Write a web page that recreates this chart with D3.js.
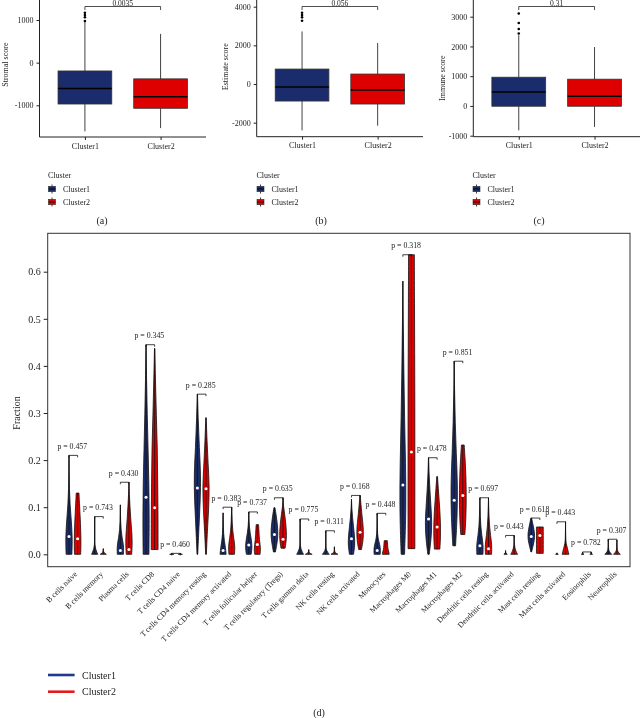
<!DOCTYPE html>
<html><head><meta charset="utf-8">
<script src="https://cdn.jsdelivr.net/npm/d3@7"></script>
<style>
body{margin:0;background:#fff}
svg{will-change:transform;transform:translateZ(0)}
text{font-family:"Liberation Serif","Times New Roman",serif;fill:#222;-webkit-font-smoothing:antialiased}
</style>
</head><body>
<svg id="chart" width="640" height="718"></svg>
<script>
// ---------- Data: panels (a)-(c) ----------
const clusters = ["Cluster1", "Cluster2"];
// [lower whisker, Q1, median, Q3, upper whisker]
const stromalBox = [[-1610, -970, -605, -195, 960], [-1535, -1070, -800, -380, 675]];
const stromalOutliers = [[976, 1063, 1117, 1171], []];
const estimateBox = [[-2400, -880, -155, 775, 2720], [-2155, -1034, -310, 517, 2120]];
const estimateOutliers = [[3275, 3450, 3570, 3688], []];
const immuneBox = [[-820, -10, 470, 966, 2380], [-706, -10, 327, 900, 1980]];
const immuneOutliers = [[2434, 2588, 2790, 3106], []];
const boxPValues = ["0.0035", "0.056", "0.31"];
const stromalTicks = [-1000, 0, 1000];
const estimateTicks = [-2000, 0, 2000, 4000];
const immuneTicks = [-1000, 0, 1000, 2000, 3000];
const boxYLabels = ["Stromal score", "Estimate score", "Immune score"];
const panelTags = ["(a)", "(b)", "(c)"];

// ---------- Data: panel (d) ----------
const cellTypes = ["B cells naive","B cells memory","Plasma cells","T cells CD8","T cells CD4 naive",
  "T cells CD4 memory resting","T cells CD4 memory activated","T cells follicular helper",
  "T cells regulatory (Tregs)","T cells gamma delta","NK cells resting","NK cells activated",
  "Monocytes","Macrophages M0","Macrophages M1","Macrophages M2","Dendritic cells resting",
  "Dendritic cells activated","Mast cells resting","Mast cells activated","Eosinophils","Neutrophils"];
const violinPValues = ["0.457","0.743","0.430","0.345","0.460","0.285","0.383","0.737","0.635","0.775",
  "0.311","0.168","0.448","0.318","0.478","0.851","0.697","0.443","0.618","0.443","0.782","0.307"];
const fractionTicks = [0, 0.1, 0.2, 0.3, 0.4, 0.5, 0.6];

const c1Min = [0,0,0,0,0,0,0,0,0.005,0,0,0,0,0,0,0.018,0,0,0.005,0,0,0];
const c1Max = [0.21,0.08,0.105,0.445,0.002,0.34,0.088,0.09,0.099,0.075,0.05,0.117,0.087,0.58,0.205,0.41,0.12,0.008,0.077,0.003,0.004,0.032];
const c1Median = [0.038,null,0.008,0.121,null,0.141,0.008,0.02,0.042,null,null,0.033,0.008,0.147,0.075,0.115,0.018,null,0.038,null,null,null];
// relative half-widths, sampled evenly from min (first) to max (last)
const c1Shape = [
  [0.85,1,0.7,0.3,0.1,0.04,0],
  [0.9,0.12,0.03,0.02,0.01,0.01,0],
  [0.9,1,0.5,0.2,0.08,0.03,0],
  [0.85,0.95,0.85,0.6,0.35,0.15,0],
  [0.6,0.3,0.1,0.05,0.02,0.01,0],
  [0.1,0.45,0.85,1,0.55,0.25,0.03],
  [0.9,0.7,0.35,0.15,0.08,0.04,0],
  [0.7,1,0.8,0.4,0.15,0.05,0],
  [0.3,0.7,1,1,0.8,0.5,0.15],
  [1,0.1,0.03,0.02,0.01,0.01,0],
  [1,0.15,0.03,0.02,0.01,0.01,0],
  [0.6,1,0.9,0.6,0.3,0.1,0],
  [0.9,1,0.4,0.1,0.05,0.02,0],
  [0.5,0.95,0.8,0.5,0.3,0.12,0],
  [0.2,0.8,1,0.7,0.4,0.15,0.02],
  [0.4,0.9,1,0.6,0.3,0.1,0],
  [0.9,1,0.55,0.25,0.12,0.05,0],
  [0.5,0.3,0.1,0.05,0.02,0.01,0],
  [0.1,0.5,0.9,1,0.8,0.45,0.1],
  [0.4,0.2,0.1,0.05,0.02,0.01,0],
  [0.4,0.2,0.1,0.05,0.02,0.01,0],
  [1,0.3,0.1,0.05,0.02,0.01,0]
];
const c2Min = [0,0,0,0.01,0,0,0,0,0.013,0,0,0.01,0,0.012,0.011,0.042,0,0,0.002,0,0,0];
const c2Max = [0.13,0.012,0.153,0.437,0.002,0.29,0.10,0.063,0.12,0.01,0.016,0.125,0.029,0.636,0.165,0.232,0.12,0.04,0.058,0.069,0.005,0.03];
const c2Median = [0.033,null,0.01,0.099,null,0.139,null,0.021,0.032,null,null,0.047,null,0.217,0.058,0.125,0.012,null,0.04,null,null,null];
const c2Shape = [
  [0.9,1,0.95,0.85,0.7,0.55,0.4],
  [0.9,0.5,0.2,0.1,0.05,0.02,0],
  [0.8,1,0.8,0.5,0.3,0.1,0],
  [1,1,0.9,0.8,0.5,0.25,0.05],
  [0.6,0.3,0.1,0.05,0.02,0.01,0],
  [0.1,0.4,0.8,1,0.6,0.3,0.05],
  [0.8,1,0.6,0.3,0.15,0.08,0],
  [0.8,0.95,0.8,0.6,0.5,0.45,0.35],
  [0.6,1,1,0.8,0.5,0.1,0.02],
  [1,0.5,0.2,0.1,0.05,0.02,0],
  [1,0.4,0.1,0.05,0.03,0.02,0],
  [0.4,0.9,1,0.8,0.5,0.25,0.05],
  [1,0.9,0.7,0.6,0.55,0.5,0.45],
  [1,1,1,1,0.95,0.9,0.85],
  [0.8,1,1,0.85,0.6,0.35,0.1],
  [0.6,0.9,1,1,0.9,0.7,0.4],
  [0.9,1,0.6,0.3,0.15,0.06,0],
  [1,0.5,0.2,0.08,0.03,0.01,0],
  [1,1,1,1,1,1,1],
  [1,0.6,0.15,0.05,0.03,0.01,0],
  [0.4,0.2,0.1,0.05,0.02,0.01,0],
  [1,0.3,0.1,0.05,0.02,0.01,0]
];

// ---------- Styles ----------
const boxFill = ["#1a2c6b", "#de0000"];
const lineCol = ["#1f3a8a", "#e41a1c"];
const ink = "#222";

const svg = d3.select("#chart");
svg.append("rect").attr("width", 640).attr("height", 718).attr("fill", "#fff");

// ---------- Panels (a)-(c) ----------
const layouts = [
  {ax: 39.5, right: 206, d: [-1000, 1000], r: [105.3, 20], base: 137, labX: 5, legX: 48, tagX: 102},
  {ax: 256.7, right: 423, d: [-2000, 4000], r: [122.7, 6.7], base: 136.7, labX: 225, legX: 256.5, tagX: 321},
  {ax: 473.3, right: 640, d: [-1000, 3000], r: [135.7, 16.7], base: 136.7, labX: 441.7, legX: 472.5, tagX: 539}
];
const boxes = [stromalBox, estimateBox, immuneBox];
const outliers = [stromalOutliers, estimateOutliers, immuneOutliers];
const ticks = [stromalTicks, estimateTicks, immuneTicks];

layouts.forEach((L, p) => {
  const g = svg.append("g");
  const y = d3.scaleLinear().domain(L.d).range(L.r);
  const x = d3.scalePoint().domain(clusters).range([L.ax, L.right]).padding(0.6);
  const bw = x.step() * 0.71;

  // y axis
  const ya = g.append("g").attr("transform", `translate(${L.ax},0)`)
    .call(d3.axisLeft(y).tickValues(ticks[p]).tickSize(3).tickPadding(3));
  ya.select(".domain").remove();
  ya.selectAll("line").attr("stroke", ink);
  ya.selectAll("text").style("font-size", "8px").attr("fill", ink).text(d => d < 0 ? "-" + Math.abs(d) : d);
  g.append("line").attr("x1", L.ax).attr("x2", L.ax).attr("y1", 0).attr("y2", L.base).attr("stroke", ink).attr("stroke-width", 1);
  // x axis
  const xa = g.append("g").attr("transform", `translate(0,${L.base})`)
    .call(d3.axisBottom(x).tickSize(3).tickPadding(3));
  xa.select(".domain").remove();
  xa.selectAll("line").attr("stroke", ink);
  xa.selectAll("text").style("font-size", "8px").attr("fill", ink);
  g.append("line").attr("x1", L.ax).attr("x2", L.right).attr("y1", L.base).attr("y2", L.base).attr("stroke", ink);

  // y label
  g.append("text").attr("transform", `translate(${L.labX},${(L.r[0] + L.r[1]) / 2 + 2}) rotate(-90)`)
    .attr("text-anchor", "middle").attr("dy", "0.35em").style("font-size", "8px").text(boxYLabels[p]);

  // boxes
  boxes[p].forEach((b, i) => {
    const cx = x(clusters[i]);
    g.append("line").attr("x1", cx).attr("x2", cx).attr("y1", y(b[0])).attr("y2", y(b[1])).attr("stroke", "#111").attr("stroke-width", 0.8);
    g.append("line").attr("x1", cx).attr("x2", cx).attr("y1", y(b[3])).attr("y2", y(b[4])).attr("stroke", "#111").attr("stroke-width", 0.8);
    g.append("rect").attr("x", cx - bw / 2).attr("width", bw).attr("y", y(b[3])).attr("height", y(b[1]) - y(b[3]))
      .attr("fill", boxFill[i]).attr("stroke", "#333").attr("stroke-width", 0.8);
    g.append("line").attr("x1", cx - bw / 2).attr("x2", cx + bw / 2).attr("y1", y(b[2])).attr("y2", y(b[2])).attr("stroke", "#000").attr("stroke-width", 1.4);
    outliers[p][i].forEach(o => {
      g.append("circle").attr("cx", cx).attr("cy", y(o)).attr("r", 1.3).attr("fill", "#000");
    });
  });
  // significance bracket
  const x1 = x(clusters[0]), x2 = x(clusters[1]);
  g.append("path").attr("d", `M${x1},10V6.5H${x2}V10`).attr("fill", "none").attr("stroke", ink).attr("stroke-width", 0.8);
  g.append("text").attr("x", (x1 + x2) / 2).attr("y", 5.6).attr("text-anchor", "middle").style("font-size", "7.5px").text(boxPValues[p]);

  // legend
  g.append("text").attr("x", L.legX).attr("y", 178).style("font-size", "8px").text("Cluster");
  clusters.forEach((c, i) => {
    const cy = 189 + i * 13, kx = L.legX + 4;
    g.append("line").attr("x1", kx).attr("x2", kx).attr("y1", cy - 4.5).attr("y2", cy + 4.5).attr("stroke", "#111").attr("stroke-width", 0.8);
    g.append("rect").attr("x", kx - 3.5).attr("y", cy - 2.7).attr("width", 7).attr("height", 5.4).attr("fill", boxFill[i]).attr("stroke", "#333").attr("stroke-width", 0.6);
    g.append("line").attr("x1", kx - 3.5).attr("x2", kx + 3.5).attr("y1", cy).attr("y2", cy).attr("stroke", "#000").attr("stroke-width", 0.8);
    g.append("text").attr("x", L.legX + 15).attr("y", cy + 3).style("font-size", "8px").text(c);
  });
  g.append("text").attr("x", L.tagX).attr("y", 223.5).attr("text-anchor", "middle").style("font-size", "10px").text(panelTags[p]);
});

// ---------- Panel (d) ----------
const frame = {left: 47.7, right: 630, top: 233.3, bottom: 566.7};
const yv = d3.scaleLinear().domain([0, 0.6]).range([554.3, 271.7]);
const xc = d3.scalePoint().domain(cellTypes).range([73.3, 612.6]);
const off = 4.3;
const wScale = d3.scaleLinear().domain([0, 1]).range([0, 3.4]);
const gd = svg.append("g");

gd.append("rect").attr("x", frame.left).attr("y", frame.top).attr("width", frame.right - frame.left)
  .attr("height", frame.bottom - frame.top).attr("fill", "none").attr("stroke", "#333").attr("stroke-width", 1);

const yaxD = gd.append("g").attr("transform", `translate(${frame.left},0)`)
  .call(d3.axisLeft(yv).tickValues(fractionTicks).tickFormat(d3.format(".1f")).tickSize(4).tickPadding(3));
yaxD.select(".domain").remove();
yaxD.selectAll("line").attr("stroke", ink);
yaxD.selectAll("text").style("font-size", "10px").attr("fill", ink);
gd.append("text").attr("transform", `translate(16,413) rotate(-90)`).attr("text-anchor", "middle")
  .attr("dy", "0.35em").style("font-size", "10px").text("Fraction");

// category labels
cellTypes.forEach(c => {
  gd.append("text").attr("transform", `translate(${xc(c) + 2.5},${frame.bottom + 6}) rotate(-45)`)
    .attr("text-anchor", "end").attr("dy", "0.35em").style("font-size", "7.8px").text(c);
});

const area = d3.area().curve(d3.curveBasis)
  .y(d => yv(d.v)).x0(d => d.cx - wScale(d.w)).x1(d => d.cx + wScale(d.w));

function drawViolin(cx, mn, mx, shape, med, col) {
  const pts = shape.map((w, k) => ({v: mn + (mx - mn) * k / (shape.length - 1), w: w, cx: cx}));
  gd.append("path").attr("d", area(pts)).attr("fill", col).attr("stroke", "#111").attr("stroke-width", 0.8).attr("stroke-linejoin", "round");
  gd.append("line").attr("x1", cx).attr("x2", cx).attr("y1", yv(mn)).attr("y2", yv(mx)).attr("stroke", "#111").attr("stroke-width", 0.8);
  if (med !== null) {
    gd.append("circle").attr("cx", cx).attr("cy", yv(med)).attr("r", 1.5).attr("fill", "#fff");
  }
}

cellTypes.forEach((c, i) => {
  const cx = xc(c);
  drawViolin(cx - off, c1Min[i], c1Max[i], c1Shape[i], c1Median[i], boxFill[0]);
  drawViolin(cx + off, c2Min[i], c2Max[i], c2Shape[i], c2Median[i], boxFill[1]);
  const top = yv(Math.max(c1Max[i], c2Max[i]));
  gd.append("path").attr("d", `M${cx - off},${top + 2}V${top}H${cx + off}V${top + 2}`)
    .attr("fill", "none").attr("stroke", "#111").attr("stroke-width", 0.8);
  gd.append("text").attr("x", cx - 1).attr("y", top - 6.5).attr("text-anchor", "middle")
    .style("font-size", "7.8px").attr("fill", "#333").text("p = " + violinPValues[i]);
});

// legend (d)
clusters.forEach((c, i) => {
  const ly = 675 + i * 16.7;
  gd.append("line").attr("x1", 48).attr("x2", 74.6).attr("y1", ly).attr("y2", ly).attr("stroke", lineCol[i]).attr("stroke-width", 2.6);
  gd.append("text").attr("x", 82).attr("y", ly + 3.5).style("font-size", "10px").text(c);
});
gd.append("text").attr("x", 319).attr("y", 716).attr("text-anchor", "middle").style("font-size", "10px").text("(d)");
</script>
</body></html>
